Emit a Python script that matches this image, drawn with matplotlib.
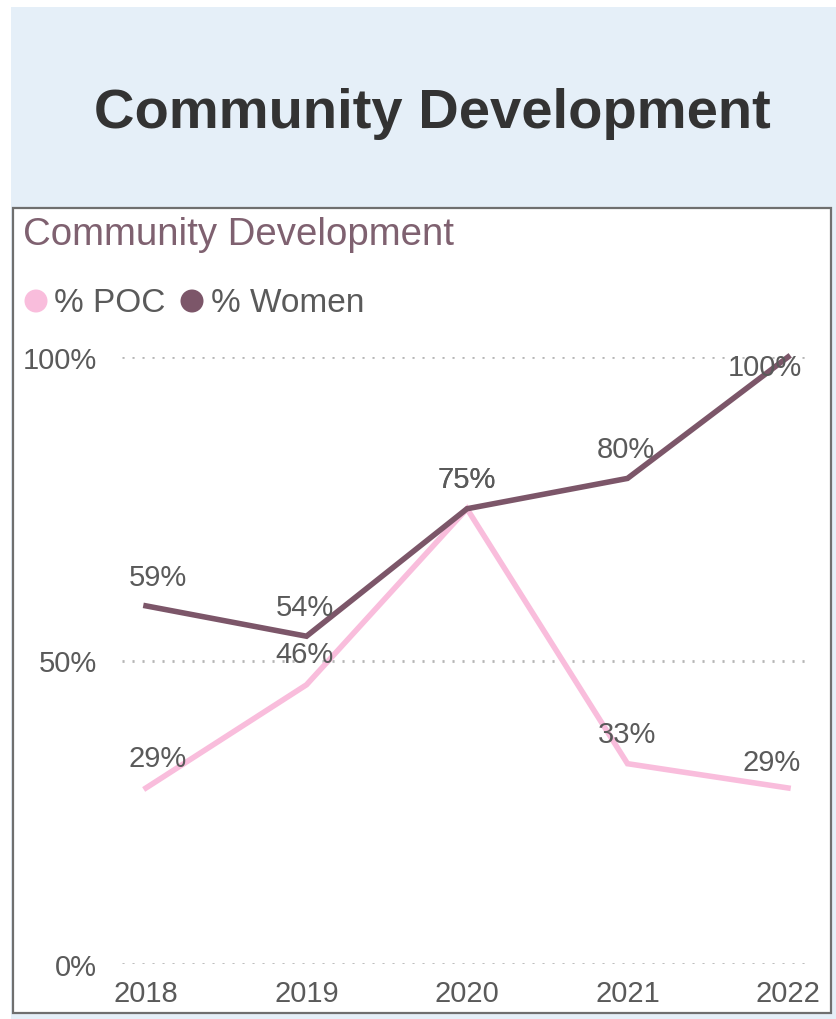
import matplotlib
matplotlib.use("Agg")
import matplotlib.pyplot as plt
from matplotlib.patches import Rectangle, Ellipse

# --- data ---------------------------------------------------------------
years = ["2018", "2019", "2020", "2021", "2022"]
poc = [29, 46, 75, 33, 29]
women = [59, 54, 75, 80, 100]
y_ticks = [0, 50, 100]
y_tick_labels = ["0%", "50%", "100%"]
series_names = ["% POC", "% Women"]

# --- style --------------------------------------------------------------
FONT = "Liberation Sans"
C_POC = "#F9BDDC"
C_WOMEN = "#7C5669"
C_TEXT = "#5A5A5A"
C_SUB = "#7F6170"
plt.rcParams["font.family"] = [FONT, "DejaVu Sans"]
plt.rcParams["lines.scale_dashes"] = False

W, H = 836, 1020
fig = plt.figure(figsize=(W / 100, H / 100), dpi=100)
fig.patch.set_facecolor("white")


def fx(px):
    return px / W


def fy(py):
    return 1 - py / H


# page background band and white card
fig.add_artist(Rectangle((fx(11), fy(1020)), fx(836) - fx(11), fy(8) - fy(1020),
                         transform=fig.transFigure, facecolor="#E5EFF8",
                         edgecolor="none", zorder=0))
fig.add_artist(Rectangle((fx(13), fy(1014)), fx(831) - fx(13), fy(209) - fy(1014),
                         transform=fig.transFigure, facecolor="white",
                         edgecolor="#6F6F6F", linewidth=1.6, zorder=1))

# headings
fig.text(fx(432), fy(128), "Community Development", ha="center", va="baseline",
         fontsize=40.4, fontweight="bold", color="#333333", zorder=3)
fig.text(fx(23), fy(245), "Community Development", ha="left", va="baseline",
         fontsize=27.6, color=C_SUB, zorder=3)

# legend
legend_items = [(36, 54, C_POC, series_names[0]), (192, 211, C_WOMEN, series_names[1])]
for cx, tx, col, name in legend_items:
    fig.add_artist(Ellipse((fx(cx), fy(302)), fx(23), 23 / H, transform=fig.transFigure,
                           facecolor=col, edgecolor="none", zorder=3))
    fig.text(fx(tx), fy(312), name, ha="left", va="baseline", fontsize=24,
             color=C_TEXT, zorder=3)

# --- plot area ------------------------------------------------------------
ax = fig.add_axes([fx(122), fy(965), fx(808) - fx(122), fy(358) - fy(965)])
ax.set_zorder(2)
ax.patch.set_alpha(0)
x = list(range(len(years)))
x0_px, step_px = 146, 160.5
ax.set_xlim((122 - x0_px) / step_px, (808 - x0_px) / step_px)
ax.set_ylim(0, 100)

for yt in y_ticks:
    ax.axhline(yt, color="#B5B5B5", linewidth=2.0, linestyle=(0, (1.5, 5.7)), zorder=1)

ax.plot(x, poc, color=C_POC, linewidth=4.0, solid_joinstyle="miter",
        clip_on=False, zorder=3)
ax.plot(x, women, color=C_WOMEN, linewidth=4.0, solid_joinstyle="miter",
        clip_on=False, zorder=4)

# data labels (offsets in pixels)
poc_offsets = [(12, 30), (-2, 31), (0, 30), (0, 30), (-16, 26)]
women_offsets = [(12, 29), (-2, 29), (0, 30), (-2, 29), (-23, -10)]
for vals, offs in ((poc, poc_offsets), (women, women_offsets)):
    for xi, v, (dx, dy) in zip(x, vals, offs):
        ax.annotate(f"{v}%", (xi, v), xytext=(dx, dy), textcoords="offset pixels",
                    ha="center", va="center", fontsize=21, color=C_TEXT,
                    zorder=5, annotation_clip=False)

ax.set_xticks(x)
ax.set_xticklabels(years)
ax.set_yticks(y_ticks)
ax.set_yticklabels(y_tick_labels)
ax.tick_params(axis="both", length=0, labelsize=21, labelcolor=C_TEXT)
ax.tick_params(axis="y", pad=18)
ax.tick_params(axis="x", pad=11)
for s in ax.spines.values():
    s.set_visible(False)

fig.savefig("out.png", dpi=100)
